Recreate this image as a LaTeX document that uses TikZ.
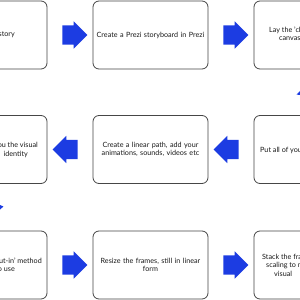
\documentclass[tikz,border=0pt]{standalone}
\usepackage{fontspec}
\setmainfont{Lato}
\usetikzlibrary{shapes.arrows,calc}
\definecolor{arrowblue}{RGB}{28,60,226}
\definecolor{boxline}{RGB}{70,70,70}
\definecolor{txtcol}{RGB}{25,25,25}
\tikzset{
  stepbox/.style={draw=boxline, line width=0.8bp, rounded corners=6bp, minimum width=115bp, minimum height=68bp, inner sep=0pt, text width=112bp, align=center, font=\fontsize{7.2bp}{8.6bp}\selectfont, text=txtcol, fill=white},
  frag/.style={inner sep=0pt, font=\fontsize{7.2bp}{8.6bp}\selectfont, text=txtcol},
  blockarrow/.style={single arrow, fill=arrowblue, draw=none, minimum height=25bp, minimum width=27bp, single arrow head extend=4bp, inner xsep=0pt, inner ysep=9.5bp},
}
\begin{document}
\begin{tikzpicture}[x=1bp,y=-1bp]
\useasboundingbox (0,0) rectangle (300,300);
\fill[white] (0,0) rectangle (300,300);
\clip (0,0) rectangle (300,300);
% row 1
\node[stepbox] (b1) at (-10.5,35) {};
\node[stepbox] (b2) at (150.5,35) {Create a Prezi storyboard in Prezi};
\node[stepbox] (b3) at (311.5,35) {};
% row 2
\node[stepbox] (b4) at (-10.5,149.5) {};
\node[stepbox] (b5) at (150.5,149.5) {Create a linear path, add your\\animations, sounds, videos etc};
\node[stepbox] (b6) at (311.5,149.5) {};
% row 3
\node[stepbox] (b7) at (-10.5,265) {};
\node[stepbox] (b8) at (150.5,265) {Resize the frames, still in linear\\form};
\node[stepbox] (b9) at (311.5,265) {};
% partial texts
\node[frag, anchor=east] (t1) at (15,34.5) {story};
\node[frag, anchor=west] (t3a) at (269,30.5) {Lay the 'cl};
\node[frag, anchor=west] (t3b) at (279,39) {canvas};
\node[frag, anchor=east] (t4a) at (38,145.5) {you the visual};
\node[frag, anchor=east] (t4b) at (28,154) {identity};
\node[frag, anchor=west] (t6) at (260,150) {Put all of you};
\node[frag, anchor=east] (t7a) at (42,261) {out-in' method};
\node[frag, anchor=east] (t7b) at (15,269.5) {to use};
\node[frag, anchor=west] (t9a) at (262,257) {Stack the fra};
\node[frag, anchor=west] (t9b) at (266,265.5) {scaling to n};
\node[frag, anchor=west] (t9c) at (274,274) {visual};
% arrows
\node[blockarrow] (a1) at ($(b1.east)!0.5!(b2.west)$) {};
\node[blockarrow] (a2) at ($(b2.east)!0.5!(b3.west)$) {};
\node[blockarrow, shape border rotate=180] (a3) at ($(b5.west)!0.5!(b4.east)$) {};
\node[blockarrow, shape border rotate=180] (a4) at ($(b6.west)!0.5!(b5.east)$) {};
\node[blockarrow] (a5) at ($(b7.east)!0.5!(b8.west)$) {};
\node[blockarrow] (a6) at ($(b8.east)!0.5!(b9.west)$) {};
% fragments of diagonal arrows off frame
\fill[arrowblue] (296.5,94.5) -- (300,91) -- (300,95) -- cycle;
\fill[arrowblue] (0,205) -- (3.5,206.5) -- (0,209.5) -- cycle;
\end{tikzpicture}
\end{document}
